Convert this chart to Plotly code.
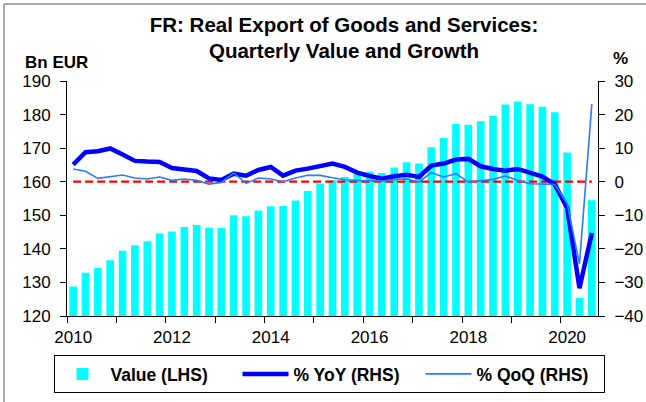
import plotly.graph_objects as go

# ---------------- data ----------------
quarters = [f"{y}Q{q}" for y in range(2010, 2021) for q in range(1, 5)][:43]
value_bn_eur = [128.8, 132.9, 134.3, 136.6, 139.4, 141.1, 142.3, 144.6, 145.2, 146.5,
                147.1, 146.3, 146.2, 150.0, 149.7, 151.4, 152.7, 152.8, 154.4, 157.2,
                159.5, 160.4, 161.4, 162.3, 163.0, 162.6, 164.2, 165.8, 165.4, 170.3,
                173.0, 177.2, 177.0, 178.0, 179.6, 183.0, 183.9, 183.1, 182.3, 180.7,
                168.7, 125.4, 154.5]
yoy_pct = [5.1, 8.8, 9.1, 9.9, 8.1, 6.2, 6.0, 5.9, 4.1, 3.7,
           3.2, 1.0, 0.5, 2.4, 1.8, 3.5, 4.4, 1.8, 3.3, 3.9,
           4.7, 5.4, 4.4, 2.7, 1.7, 0.9, 1.6, 2.1, 1.4, 4.8,
           5.4, 6.6, 6.8, 4.6, 3.8, 3.3, 3.8, 2.7, 1.5, -0.8,
           -7.8, -31.7, -15.3]
qoq_pct = [3.8, 3.1, 1.0, 1.6, 2.0, 1.1, 0.8, 1.4, 0.4, 0.8,
           0.4, -0.7, -0.2, 2.6, -0.5, 1.1, 0.8, 0.0, 1.1, 1.9,
           1.9, 1.2, 0.6, 0.4, 0.4, 0.2, 0.7, 0.8, -0.1, 2.7,
           1.4, 2.4, -0.1, 0.4, 0.7, 1.7, 0.4, -0.6, -0.6, -0.8,
           -6.5, -24.5, 23.1]
tick_years = ["2010", "2012", "2014", "2016", "2018", "2020"]
zero_line = [0, 0]

x_idx = list(range(len(quarters)))
tick_pos = [quarters.index(y + "Q1") for y in tick_years]
year_bounds = [quarters.index(f"{y}Q1") - 0.5 for y in range(2010, 2021)]

FONT = "Liberation Sans, Arial, sans-serif"
W, H = 646, 402
L, R, T, B = 67, 48, 81, 86
PW, PH = W - L - R, H - T - B


def px_x(px):
    return (px - L) / PW


def px_y(py):
    return (H - B - py) / PH


fig = go.Figure()
fig.add_trace(go.Bar(
    x=x_idx, y=value_bn_eur, name="Value (LHS)",
    marker=dict(color="#00FFFF", line=dict(width=0)),
    width=0.62, yaxis="y", showlegend=True))
fig.add_trace(go.Scatter(
    x=[x_idx[0], x_idx[-1]], y=zero_line, mode="lines", yaxis="y2",
    line=dict(color="#FF0000", width=2.2, dash="8px,4px"), showlegend=False,
    hoverinfo="skip"))
fig.add_trace(go.Scatter(
    x=x_idx, y=yoy_pct, name="% YoY (RHS)", mode="lines", yaxis="y2",
    line=dict(color="#0000FF", width=4.5)))
fig.add_trace(go.Scatter(
    x=x_idx, y=qoq_pct, name="% QoQ (RHS)", mode="lines", yaxis="y2",
    line=dict(color="#2A7BFF", width=1.6)))

fig.update_layout(
    width=W, height=H,
    margin=dict(l=L, r=R, t=T, b=B, pad=0, autoexpand=False),
    paper_bgcolor="white", plot_bgcolor="white",
    font=dict(family=FONT, size=17, color="black"),
    title=dict(
        text="FR: Real Export of Goods and Services:<br>Quarterly Value and Growth",
        font=dict(family=FONT, size=20.5, color="black", weight="bold"),
        x=344 / W, xanchor="center", xref="container",
        y=1 - 31.5 / H, yanchor="middle", yref="container"),
    xaxis=dict(
        range=[-0.5, len(quarters) - 0.5],
        tickmode="array", tickvals=tick_pos, ticktext=tick_years,
        ticks="", showgrid=False, zeroline=False,
        showline=True, linecolor="black", linewidth=1,
        tickfont=dict(family=FONT, size=17, color="black"),
        ticklabelstandoff=6,
        minor=dict(tickmode="array", tickvals=year_bounds, ticks="outside",
                   ticklen=6, tickcolor="black", tickwidth=1, showgrid=False)),
    yaxis=dict(
        range=[120, 190], dtick=10, tick0=120,
        ticks="outside", ticklen=6, tickcolor="black",
        showline=True, linecolor="black", linewidth=1,
        showgrid=False, zeroline=False,
        tickfont=dict(family=FONT, size=17, color="black"),
        ticklabelstandoff=6),
    yaxis2=dict(
        range=[-40, 30], dtick=10, tick0=-40,
        overlaying="y", side="right",
        ticks="outside", ticklen=6, tickcolor="black",
        showline=True, linecolor="black", linewidth=1,
        showgrid=False, zeroline=False,
        tickfont=dict(family=FONT, size=17, color="black"),
        ticklabelstandoff=6),
    bargap=0.38,
    legend=dict(
        orientation="h", x=px_x(53.5), y=px_y(355), xanchor="left", yanchor="top",
        bordercolor="black", borderwidth=1, bgcolor="white",
        font=dict(family=FONT, size=17.5, color="black", weight="bold"),
        itemwidth=46, entrywidth=122, traceorder="normal"),
    showlegend=True,
)

fig.add_annotation(text="<b>Bn EUR</b>", x=px_x(56), y=px_y(63),
                   xref="paper", yref="paper", showarrow=False,
                   xanchor="center", yanchor="middle",
                   font=dict(family=FONT, size=17, color="black"))
fig.add_annotation(text="<b>%</b>", x=px_x(620.5), y=px_y(58.5),
                   xref="paper", yref="paper", showarrow=False,
                   xanchor="center", yanchor="middle",
                   font=dict(family=FONT, size=17, color="black"))

# outer chart border (only its left and top edges fall inside the frame)
fig.add_shape(type="line", xref="paper", yref="paper",
              x0=px_x(4), x1=px_x(4), y0=px_y(4), y1=px_y(420),
              line=dict(color="#555555", width=1))
fig.add_shape(type="line", xref="paper", yref="paper",
              x0=px_x(4), x1=px_x(700), y0=px_y(4), y1=px_y(4),
              line=dict(color="#555555", width=1))

fig.write_html(
    "out.html",
    config={"displayModeBar": False},
    post_script="document.body.style.margin='0px';document.body.style.padding='0px';",
)
